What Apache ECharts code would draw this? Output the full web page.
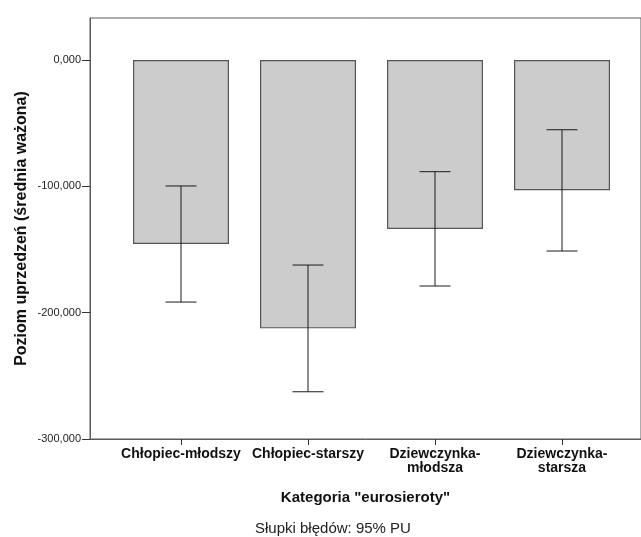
<!DOCTYPE html>
<html>
<head>
<meta charset="utf-8">
<script src="https://cdn.jsdelivr.net/npm/echarts@6/dist/echarts.min.js"></script>
<style>
html,body{margin:0;padding:0;background:#fff;}
#c{width:641px;height:537px;}
</style>
</head>
<body>
<div id="c"></div>
<script>
const categories = ["Chłopiec-młodszy", "Chłopiec-starszy", "Dziewczynka-młodsza", "Dziewczynka-starsza"];
const means = [-145.6, -212.4, -133.8, -103.1];
const ciUpper = [-99.7, -162.3, -88.4, -55.2];
const ciLower = [-191.6, -262.6, -178.9, -151.2];
const yTicks = [-300, -200, -100, 0];
const yMin = -300, yMax = 33.25;

const FONT = '"Liberation Sans", Arial, sans-serif';
const fmt = v => v.toFixed(3).replace('.', ',');

const errData = categories.map((c, i) => [i, ciLower[i], ciUpper[i]]);

const chart = echarts.init(document.getElementById('c'), null, {renderer: 'canvas'});
chart.setOption({
  animation: false,
  backgroundColor: '#fff',
  title: {
    text: 'Słupki błędów: 95% PU',
    left: 255, top: 521,
    padding: 0,
    textStyle: {fontFamily: FONT, fontSize: 15, fontWeight: 'normal', color: '#222'}
  },
  grid: [
    {left: 90, right: -20, top: 18, bottom: 98, show: true, borderColor: '#5a5a5a', borderWidth: 1, backgroundColor: 'transparent'},
    {left: 117.5, width: 508, top: 18, bottom: 98}
  ],
  xAxis: [
    {
      gridIndex: 0, type: 'value', min: 0, max: 1,
      axisLine: {show: true, onZero: false, lineStyle: {color: '#5a5a5a', width: 1}},
      axisTick: {show: false}, axisLabel: {show: false}, splitLine: {show: false},
      name: 'Kategoria "eurosieroty"', nameLocation: 'middle', nameGap: 51,
      nameMoveOverlap: false,
      nameTextStyle: {fontFamily: FONT, fontSize: 15, fontWeight: 'bold', color: '#111'}
    },
    {
      gridIndex: 1, type: 'category', data: categories,
      axisLine: {show: false, onZero: false},
      axisTick: {show: true, alignWithLabel: true, length: 6, lineStyle: {color: '#333'}},
      axisLabel: {
        margin: 8, interval: 0, color: '#111',
        fontFamily: FONT, fontSize: 14, fontWeight: 'bold', lineHeight: 14,
        formatter: v => v.length > 17 ? v.replace('-', '-\n') : v
      },
      splitLine: {show: false}
    }
  ],
  yAxis: [
    {
      gridIndex: 0, type: 'value', min: yMin, max: yMax, interval: 100,
      axisLine: {show: true, lineStyle: {color: '#5a5a5a', width: 1}},
      axisTick: {show: true, length: 8, customValues: yTicks, lineStyle: {color: '#333'}},
      axisLabel: {
        customValues: yTicks, margin: 9, color: '#222',
        fontFamily: FONT, fontSize: 11, formatter: fmt
      },
      splitLine: {show: false},
      name: 'Poziom uprzedzeń (średnia ważona)', nameLocation: 'middle', nameGap: 60,
      nameMoveOverlap: false,
      nameTextStyle: {fontFamily: FONT, fontSize: 16, fontWeight: 'bold', color: '#111'}
    },
    {
      gridIndex: 1, type: 'value', min: yMin, max: yMax, show: false
    }
  ],
  series: [
    {
      type: 'bar', xAxisIndex: 1, yAxisIndex: 1,
      data: means, barWidth: 96,
      itemStyle: {color: '#cccccc', borderColor: '#555', borderWidth: 1.2},
      z: 2
    },
    {
      type: 'custom', xAxisIndex: 1, yAxisIndex: 1,
      data: errData, z: 5,
      renderItem: function (params, api) {
        const x = api.value(0);
        const lo = api.coord([x, api.value(1)]);
        const hi = api.coord([x, api.value(2)]);
        const half = 15.5;
        const st = {stroke: '#1a1a1a', lineWidth: 1, fill: null};
        return {
          type: 'group',
          children: [
            {type: 'line', shape: {x1: lo[0], y1: lo[1], x2: hi[0], y2: hi[1]}, style: st},
            {type: 'line', shape: {x1: lo[0] - half, y1: lo[1], x2: lo[0] + half, y2: lo[1]}, style: st},
            {type: 'line', shape: {x1: hi[0] - half, y1: hi[1], x2: hi[0] + half, y2: hi[1]}, style: st}
          ]
        };
      }
    }
  ]
});
</script>
</body>
</html>
